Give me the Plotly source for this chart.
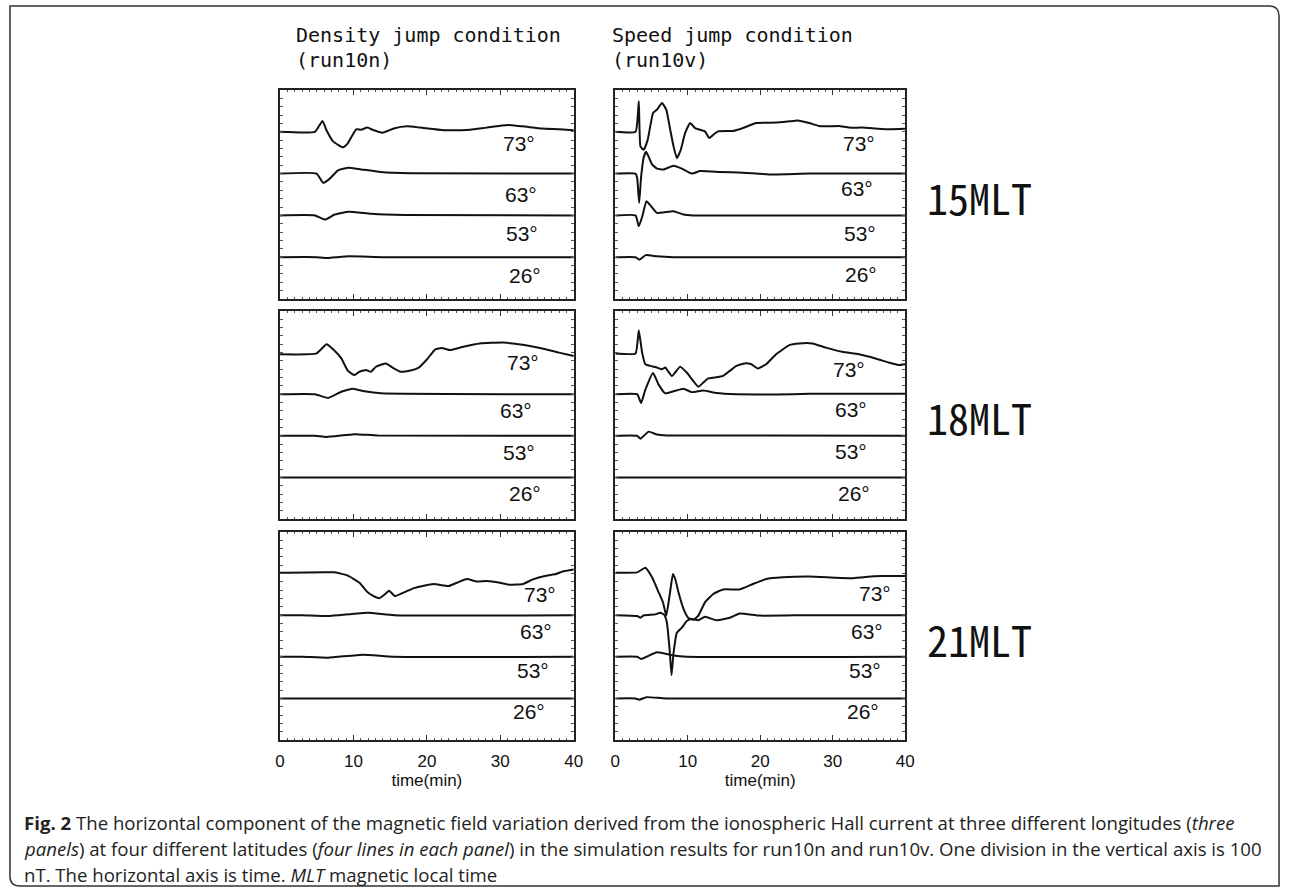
import plotly.graph_objects as go

# ---------------- data (time in min, deviation in nT; 100 nT = one line spacing) -------------
latitudes = ["73°", "63°", "53°", "26°"]
baselines = [400, 300, 200, 100]
mlt_labels = ["15MLT", "18MLT", "21MLT"]
x_ticks = [0, 10, 20, 30, 40]

# 15MLT, density jump (run10n)
t_15n_73 = [0, 4.76, 5.79, 6.3, 7.23, 8.58, 9.25, 10.37, 11.05, 11.9, 12.6, 13.96, 15.5, 17.3, 19.1, 22.3, 25.9, 28.1, 31.0, 33.0, 35.7, 38.0, 40]
d_15n_73 = [0, 0, 26, 5, -23, -37, -27, 6, 5, 10, 5, -2, 8, 13, 10, 4, 5, 10, 16, 13, 8, 6, 4]
t_15n_63 = [0, 4.98, 5.88, 6.78, 7.9, 9.34, 11.05, 13.7, 17.8, 40]
d_15n_63 = [0, 0, -22, -12, 8, 14, 10, 4, 1, 0]
t_15n_53 = [0, 4.76, 6.1, 7.45, 9.34, 12.4, 16.9, 40]
d_15n_53 = [0, 0, -10, 2, 9, 4, 1, 0]
t_15n_26 = [0, 5.0, 6.1, 9.4, 14, 40]
d_15n_26 = [0, 0, -2, 2, 0, 0]

# 15MLT, speed jump (run10v)
t_15v_73 = [0, 2.79, 3.24, 3.47, 3.93, 4.47, 5.21, 5.75, 6.44, 7.03, 7.58, 8.04, 8.49, 9.04, 9.63, 10.32, 11.0, 11.69, 12.37, 12.97, 13.52, 14.2, 16.26, 17.63, 19.45, 22.19, 24.02, 25.16, 26.76, 28.13, 29.5, 30.87, 32.24, 34.06, 35.89, 37.72, 40]
d_15v_73 = [0, 0, 73, -35, -43, -19, 45, 53, 69, 53, 5, -35, -63, -43, -3, 21, 9, 5, 1, -15, -7, 1, 2, 9, 21, 22, 25, 27, 21, 14, 13, 14, 10, 10, 8, 6, 7]
t_15v_63 = [0, 2.79, 3.01, 3.29, 3.56, 3.93, 4.25, 4.61, 5.07, 5.75, 6.67, 8.04, 9.18, 10.55, 11.69, 14.43, 17.63, 21.74, 26.76, 40]
d_15v_63 = [0, 0, -10, -70, -8, 40, 52, 40, 22, 12, 10, 19, 12, 0, 6, 4, 2, -2, 0, 0]
t_15v_53 = [0, 2.79, 3.24, 3.7, 4.29, 4.84, 5.75, 6.67, 8.04, 9.41, 10.78, 40]
d_15v_53 = [0, 0, -26, -4, 34, 24, 6, 7, 10, 2, 0, 0]
t_15v_26 = [0, 2.8, 3.33, 4.2, 5.75, 8.0, 40]
d_15v_26 = [0, 0, -6, 5, 2, 0, 0]

# 18MLT, density jump (run10n)
t_18n_73 = [0, 4.98, 6.33, 7.23, 8.35, 9.25, 10.15, 10.82, 11.72, 12.39, 13.07, 14.42, 15.32, 16.44, 17.78, 18.9, 20.03, 21.15, 22.05, 23.17, 24.96, 27.21, 30.35, 33.04, 36.18, 37.98, 40]
d_18n_73 = [-4, -2, 20, 8, -14, -44, -54, -46, -42, -46, -34, -26, -36, -46, -43, -36, -16, 8, 11, 6, 14, 22, 24, 19, 8, 0, -8]
t_18n_63 = [0, 4.76, 6.55, 8.35, 9.92, 11.5, 13.74, 40]
d_18n_63 = [0, 0, -9, 6, 13, 7, 2, 0]
t_18n_53 = [0, 4.76, 6.33, 10.15, 13.3, 40]
d_18n_53 = [0, 0, -3, 4, 1, 0]
t_18n_26 = [0, 40]
d_18n_26 = [0, 0]

# 18MLT, speed jump (run10v)
t_18v_73 = [0, 2.79, 3.24, 3.7, 4.15, 4.84, 5.75, 6.44, 6.89, 7.81, 8.95, 9.86, 11.46, 12.15, 12.83, 13.74, 14.88, 15.8, 16.71, 17.85, 18.77, 19.68, 20.82, 22.19, 24.02, 25.39, 27.21, 29.04, 31.32, 33.61, 35.89, 37.72, 39.09, 40]
d_18v_73 = [-2, -2, 54, 0, -28, -32, -36, -40, -36, -56, -34, -48, -82, -72, -62, -60, -56, -44, -32, -26, -28, -38, -28, -4, 18, 22, 22, 12, 2, -4, -14, -24, -30, -28]
t_18v_63 = [0, 3.01, 3.56, 4.15, 5.21, 5.98, 6.89, 8.04, 9.41, 10.55, 12.15, 13.97, 16.71, 22.19, 26.76, 40]
d_18v_63 = [0, 0, -21, 11, 51, 23, 2, 7, 13, 5, 9, 3, 0, -1, 1, 1]
t_18v_53 = [0, 3.0, 3.47, 4.61, 5.75, 7.12, 40]
d_18v_53 = [0, 0, -7, 10, 3, 1, 0]
t_18v_26 = [0, 40]
d_18v_26 = [0, 0]

# 21MLT, density jump (run10n)
t_21n_73 = [0, 7.45, 9.25, 10.82, 11.94, 12.62, 13.52, 14.19, 14.87, 15.63, 16.89, 18.24, 19.59, 20.94, 22.96, 24.09, 25.44, 26.78, 28.13, 29.93, 31.28, 33.08, 34.43, 36.23, 37.58, 38.48, 40]
d_21n_73 = [2, 3, -5, -22, -45, -53, -59, -51, -41, -54, -45, -35, -29, -25, -30, -22, -13, -19, -18, -22, -27, -25, -14, -5, -1, 5, 10]
t_21n_63 = [0, 3.0, 6.55, 11.94, 15.54, 40]
d_21n_63 = [0, 0, -2, 6, 0, 0]
t_21n_53 = [0, 3.0, 6.55, 11.27, 15.54, 40]
d_21n_53 = [0, 0, -2, 5, 0, 0]
t_21n_26 = [0, 40]
d_21n_26 = [0, 0]

# 21MLT, speed jump (run10v)
t_21v_73 = [0, 3.01, 4.15, 5.07, 5.98, 6.58, 7.03, 7.49, 7.95, 8.27, 8.72, 9.41, 10.09, 10.78, 11.46, 12.37, 13.52, 14.88, 17.17, 18.99, 20.82, 23.1, 26.76, 30.41, 32.69, 34.52, 36.8, 40]
d_21v_73 = [2, 3, 14, -9, -45, -69, -101, -53, -1, -13, -45, -85, -107, -111, -101, -69, -49, -38, -38, -25, -13, -9, -7, -10, -11, -8, -6, -6]
t_21v_63 = [0, 3.01, 3.47, 3.93, 5.53, 6.21, 6.76, 7.12, 7.49, 7.76, 8.04, 8.49, 9.18, 9.86, 10.55, 11.46, 12.37, 13.97, 15.8, 17.17, 19.91, 26.76, 40]
d_21v_63 = [0, -2, -6, 0, 2, 6, 1, -18, -82, -144, -90, -42, -30, -14, -9, -12, -4, -12, -6, 4, -1, 0, 0]
t_21v_53 = [0, 3.01, 3.56, 5.75, 8.04, 9.86, 40]
d_21v_53 = [0, 0, -5, 11, 3, 0, 0]
t_21v_26 = [0, 2.8, 3.3, 4.3, 7.0, 40]
d_21v_26 = [0, 0, -3, 3, 0, 0]

panels = [
    [(t_15n_73, d_15n_73), (t_15n_63, d_15n_63), (t_15n_53, d_15n_53), (t_15n_26, d_15n_26)],
    [(t_15v_73, d_15v_73), (t_15v_63, d_15v_63), (t_15v_53, d_15v_53), (t_15v_26, d_15v_26)],
    [(t_18n_73, d_18n_73), (t_18n_63, d_18n_63), (t_18n_53, d_18n_53), (t_18n_26, d_18n_26)],
    [(t_18v_73, d_18v_73), (t_18v_63, d_18v_63), (t_18v_53, d_18v_53), (t_18v_26, d_18v_26)],
    [(t_21n_73, d_21n_73), (t_21n_63, d_21n_63), (t_21n_53, d_21n_53), (t_21n_26, d_21n_26)],
    [(t_21v_73, d_21v_73), (t_21v_63, d_21v_63), (t_21v_53, d_21v_53), (t_21v_26, d_21v_26)],
]

# ---------------- layout -------------------------------------------------------------------
W, H = 1292, 889
col_x = [(278, 575), (617, 910)]
row_y = [(90, 299), (311, 519), (532, 740)]

# label anchor positions (time, value) per panel, latitude order 73,63,53,26
label_pos = [
    [(32.6, 372), (32.8, 251), (33.0, 156), (33.4, 57)],
    [(33.6, 372), (33.4, 265), (33.8, 157), (33.9, 59)],
    [(33.1, 377), (32.2, 261), (32.6, 160), (33.3, 62)],
    [(32.3, 359), (32.5, 263), (32.5, 163), (32.9, 62)],
    [(35.4, 349), (34.9, 262), (34.4, 166), (33.9, 69)],
    [(35.9, 353), (34.8, 260), (34.4, 168), (34.2, 69)],
]

NARROW = "'Liberation Sans', Arial, sans-serif"
MONO = "'Noto Sans Mono CJK JP', 'Noto Sans CJK JP', monospace"
HEAD = "'DejaVu Sans Mono', 'Liberation Mono', monospace"
CAP = "'Open Sans', 'Noto Sans', sans-serif"

fig = go.Figure()
layout = dict(width=W, height=H, margin=dict(l=0, r=0, t=0, b=0),
              paper_bgcolor="white", plot_bgcolor="white", showlegend=False)
annotations = []

for p in range(6):
    r, c = divmod(p, 2)
    idx = p + 1
    xa = "xaxis" if idx == 1 else f"xaxis{idx}"
    ya = "yaxis" if idx == 1 else f"yaxis{idx}"
    xr = "x" if idx == 1 else f"x{idx}"
    yr = "y" if idx == 1 else f"y{idx}"
    x0, x1 = col_x[c]
    y0, y1 = row_y[r]
    bottom = (r == 2)
    layout[xa] = dict(domain=[x0 / W, x1 / W], range=[0, 40], anchor=yr,
                      showline=True, linecolor="#222", linewidth=1.5, mirror="ticks",
                      ticks="inside", ticklen=5, tickwidth=1, tickcolor="#333",
                      tickvals=x_ticks, showticklabels=bottom, showgrid=False, zeroline=False,
                      minor=dict(dtick=1, ticks="inside", ticklen=2.5, tickwidth=1, tickcolor="#555", showgrid=False),
                      tickfont=dict(family=NARROW, size=17, color="#111"),
                      ticklabelstandoff=5,
                      title=dict(text="time(min)" if bottom else "", standoff=0,
                                 font=dict(family=NARROW, size=17, color="#111")))
    layout[ya] = dict(domain=[1 - y1 / H, 1 - y0 / H], range=[0, 500], anchor=xr,
                      showline=True, linecolor="#222", linewidth=1.5, mirror="ticks",
                      ticks="inside", ticklen=3, tickwidth=1, tickcolor="#555",
                      dtick=20, tick0=0, showticklabels=False, showgrid=False, zeroline=False)
    for k in range(4):
        tt, dd = panels[p][k]
        fig.add_trace(go.Scatter(x=tt, y=[baselines[k] + v for v in dd], mode="lines",
                                 line=dict(color="#111", width=2, shape="spline", smoothing=0.4),
                                 xaxis=xr, yaxis=yr, hoverinfo="skip"))
        lx, ly = label_pos[p][k]
        annotations.append(dict(x=lx, y=ly, xref=xr, yref=yr, text=latitudes[k], showarrow=False,
                                font=dict(family=NARROW, size=21, color="#111"),
                                xanchor="center", yanchor="middle"))

# headings
headings = [("Density jump condition", 293, 35), ("(run10n)", 293, 60),
            ("Speed jump condition", 613, 35), ("(run10v)", 613, 60)]
for txt, hx, hy in headings:
    annotations.append(dict(x=hx / W, y=1 - hy / H, xref="paper", yref="paper", text=txt,
                            showarrow=False, xanchor="left", yanchor="middle", borderpad=0,
                            font=dict(family=HEAD, size=20, color="#111")))
for r, lab in enumerate(mlt_labels):
    yc = (row_y[r][0] + row_y[r][1]) / 2 + 2
    annotations.append(dict(x=930 / W, y=1 - yc / H, xref="paper", yref="paper", text=lab,
                            showarrow=False, xanchor="left", yanchor="middle",
                            font=dict(family=MONO, size=42, color="#111")))

# caption
caption_lines = [
    "<b>Fig. 2</b> The horizontal component of the magnetic field variation derived from the ionospheric Hall current at three different longitudes (<i>three</i>",
    "<i>panels</i>) at four different latitudes (<i>four lines in each panel</i>) in the simulation results for run10n and run10v. One division in the vertical axis is 100",
    "nT. The horizontal axis is time. <i>MLT</i> magnetic local time",
]
for i, line in enumerate(caption_lines):
    annotations.append(dict(x=17 / W, y=1 - (822 + 26 * i) / H, xref="paper", yref="paper", text=line,
                            showarrow=False, xanchor="left", yanchor="middle",
                            font=dict(family=CAP, size=18.6, color="#222")))

layout["annotations"] = annotations

# outer frame with rounded corners (top-right, bottom-left)
L, T, R, B, rad = 5, 6, 1288, 886, 10
def px(x): return x / W
def py(y): return 1 - y / H
frame = (f"M {px(L)} {py(T)} L {px(R - rad)} {py(T)} Q {px(R)} {py(T)} {px(R)} {py(T + rad)} "
         f"L {px(R)} {py(B)} L {px(L + rad)} {py(B)} Q {px(L)} {py(B)} {px(L)} {py(B - rad)} Z")
layout["shapes"] = [dict(type="path", xref="paper", yref="paper", path=frame,
                         line=dict(color="#333", width=1.5))]

fig.update_layout(**layout)
fig.write_html("out.html")
